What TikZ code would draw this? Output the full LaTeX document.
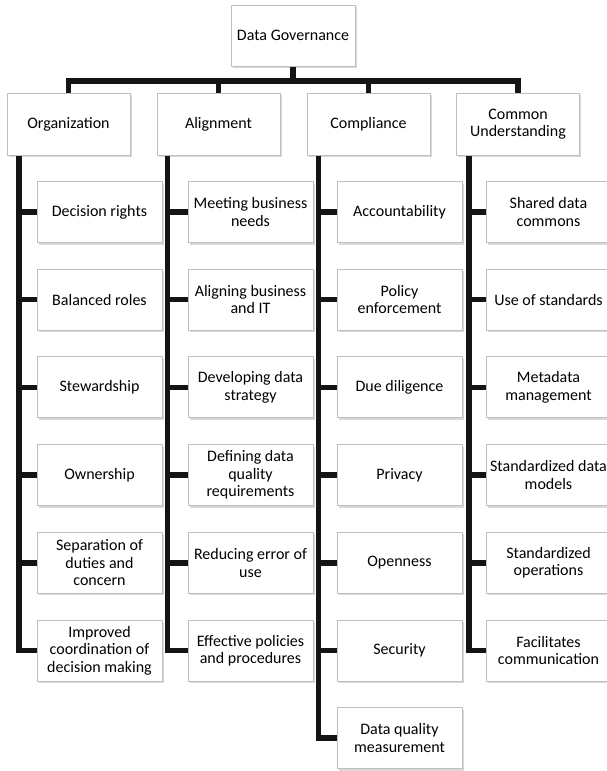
\documentclass[tikz,border=0pt]{standalone}
\usepackage{fontspec}
\setmainfont{Carlito}
\usetikzlibrary{shadows}

\begin{document}
\begin{tikzpicture}[x=1pt,y=1pt,
	box/.style={draw=gray!50,line width=1pt,fill=white,align=center,inner sep=1pt,
		minimum width=125pt,minimum height=61pt,font=\fontsize{16}{17.5}\selectfont,
		drop shadow={shadow xshift=1.5pt,shadow yshift=-2pt,opacity=0.3}},
	head/.style={box,minimum width=123pt,minimum height=62pt},
	link/.style={line width=5.5pt,black!92}]
	\useasboundingbox (0,0) rectangle (606,-771);
	\def\ry{212} %y of first row
	\def\dy{87.7} %row pitch

	%TOP
	\node[box,minimum width=124pt] (gov) at (293,-35.5) {Data Governance};
	\node[head] (org) at (68.5,-124) {Organization};
	\node[head] (ali) at (218.5,-124) {Alignment};
	\node[head] (comp) at (368.5,-124) {Compliance};
	\node[head] (cu) at (518,-124) {Common\\Understanding};
	\coordinate (bar) at (0,-81); %height of the bar

	%ORGANIZATION
	\node[box] (org1) at (99.5,-\ry) {Decision rights};
	\node[box] (org2) at (99.5,{-\ry-\dy}) {Balanced roles};
	\node[box] (org3) at (99.5,{-\ry-2*\dy}) {Stewardship};
	\node[box] (org4) at (99.5,{-\ry-3*\dy}) {Ownership};
	\node[box] (org5) at (99.5,{-\ry-4*\dy}) {Separation of\\duties and\\concern};
	\node[box] (org6) at (99.5,{-\ry-5*\dy}) {Improved\\coordination of\\decision making};

	%ALIGNMENT
	\node[box] (ali1) at (250.5,-\ry) {Meeting business\\needs};
	\node[box] (ali2) at (250.5,{-\ry-\dy}) {Aligning business\\and IT};
	\node[box] (ali3) at (250.5,{-\ry-2*\dy}) {Developing data\\strategy};
	\node[box] (ali4) at (250.5,{-\ry-3*\dy}) {Defining data\\quality\\requirements};
	\node[box] (ali5) at (250.5,{-\ry-4*\dy}) {Reducing error of\\use};
	\node[box] (ali6) at (250.5,{-\ry-5*\dy}) {Effective policies\\and procedures};

	%COMPLIANCE
	\node[box] (comp1) at (399.5,-\ry) {Accountability};
	\node[box] (comp2) at (399.5,{-\ry-\dy}) {Policy\\enforcement};
	\node[box] (comp3) at (399.5,{-\ry-2*\dy}) {Due diligence};
	\node[box] (comp4) at (399.5,{-\ry-3*\dy}) {Privacy};
	\node[box] (comp5) at (399.5,{-\ry-4*\dy}) {Openness};
	\node[box] (comp6) at (399.5,{-\ry-5*\dy}) {Security};
	\node[box] (comp7) at (399.5,{-\ry-6*\dy}) {Data quality\\measurement};

	%COMMON UNDERSTANDING
	\node[box] (cu1) at (548.5,-\ry) {Shared data\\commons};
	\node[box] (cu2) at (548.5,{-\ry-\dy}) {Use of standards};
	\node[box] (cu3) at (548.5,{-\ry-2*\dy}) {Metadata\\management};
	\node[box] (cu4) at (548.5,{-\ry-3*\dy}) {Standardized data\\models};
	\node[box] (cu5) at (548.5,{-\ry-4*\dy}) {Standardized\\operations};
	\node[box] (cu6) at (548.5,{-\ry-5*\dy}) {Facilitates\\communication};

	%BAR
	\draw[link] (gov.south) -- (gov.south |- bar);
	\draw[link] (org.north) -- (org.north |- bar) -- (cu.north |- bar) -- (cu.north);
	\draw[link] (ali.north) -- (ali.north |- bar);
	\draw[link] (comp.north) -- (comp.north |- bar);

	%SPINES
	\coordinate (orgs) at ([xshift=12.5pt]org.south west);
	\coordinate (alis) at ([xshift=11pt]ali.south west);
	\coordinate (comps) at ([xshift=12pt]comp.south west);
	\coordinate (cus) at ([xshift=13pt]cu.south west);
	\draw[link] (orgs) |- (org6.west);
	\draw[link] (alis) |- (ali6.west);
	\draw[link] (comps) |- (comp7.west);
	\draw[link] (cus) |- (cu6.west);
	\draw[link] (org1.west) -- (org1.west -| orgs); %branches
	\draw[link] (org2.west) -- (org2.west -| orgs);
	\draw[link] (org3.west) -- (org3.west -| orgs);
	\draw[link] (org4.west) -- (org4.west -| orgs);
	\draw[link] (org5.west) -- (org5.west -| orgs);
	\draw[link] (ali1.west) -- (ali1.west -| alis);
	\draw[link] (ali2.west) -- (ali2.west -| alis);
	\draw[link] (ali3.west) -- (ali3.west -| alis);
	\draw[link] (ali4.west) -- (ali4.west -| alis);
	\draw[link] (ali5.west) -- (ali5.west -| alis);
	\draw[link] (comp1.west) -- (comp1.west -| comps);
	\draw[link] (comp2.west) -- (comp2.west -| comps);
	\draw[link] (comp3.west) -- (comp3.west -| comps);
	\draw[link] (comp4.west) -- (comp4.west -| comps);
	\draw[link] (comp5.west) -- (comp5.west -| comps);
	\draw[link] (comp6.west) -- (comp6.west -| comps);
	\draw[link] (cu1.west) -- (cu1.west -| cus);
	\draw[link] (cu2.west) -- (cu2.west -| cus);
	\draw[link] (cu3.west) -- (cu3.west -| cus);
	\draw[link] (cu4.west) -- (cu4.west -| cus);
	\draw[link] (cu5.west) -- (cu5.west -| cus);
\end{tikzpicture}
\end{document}
